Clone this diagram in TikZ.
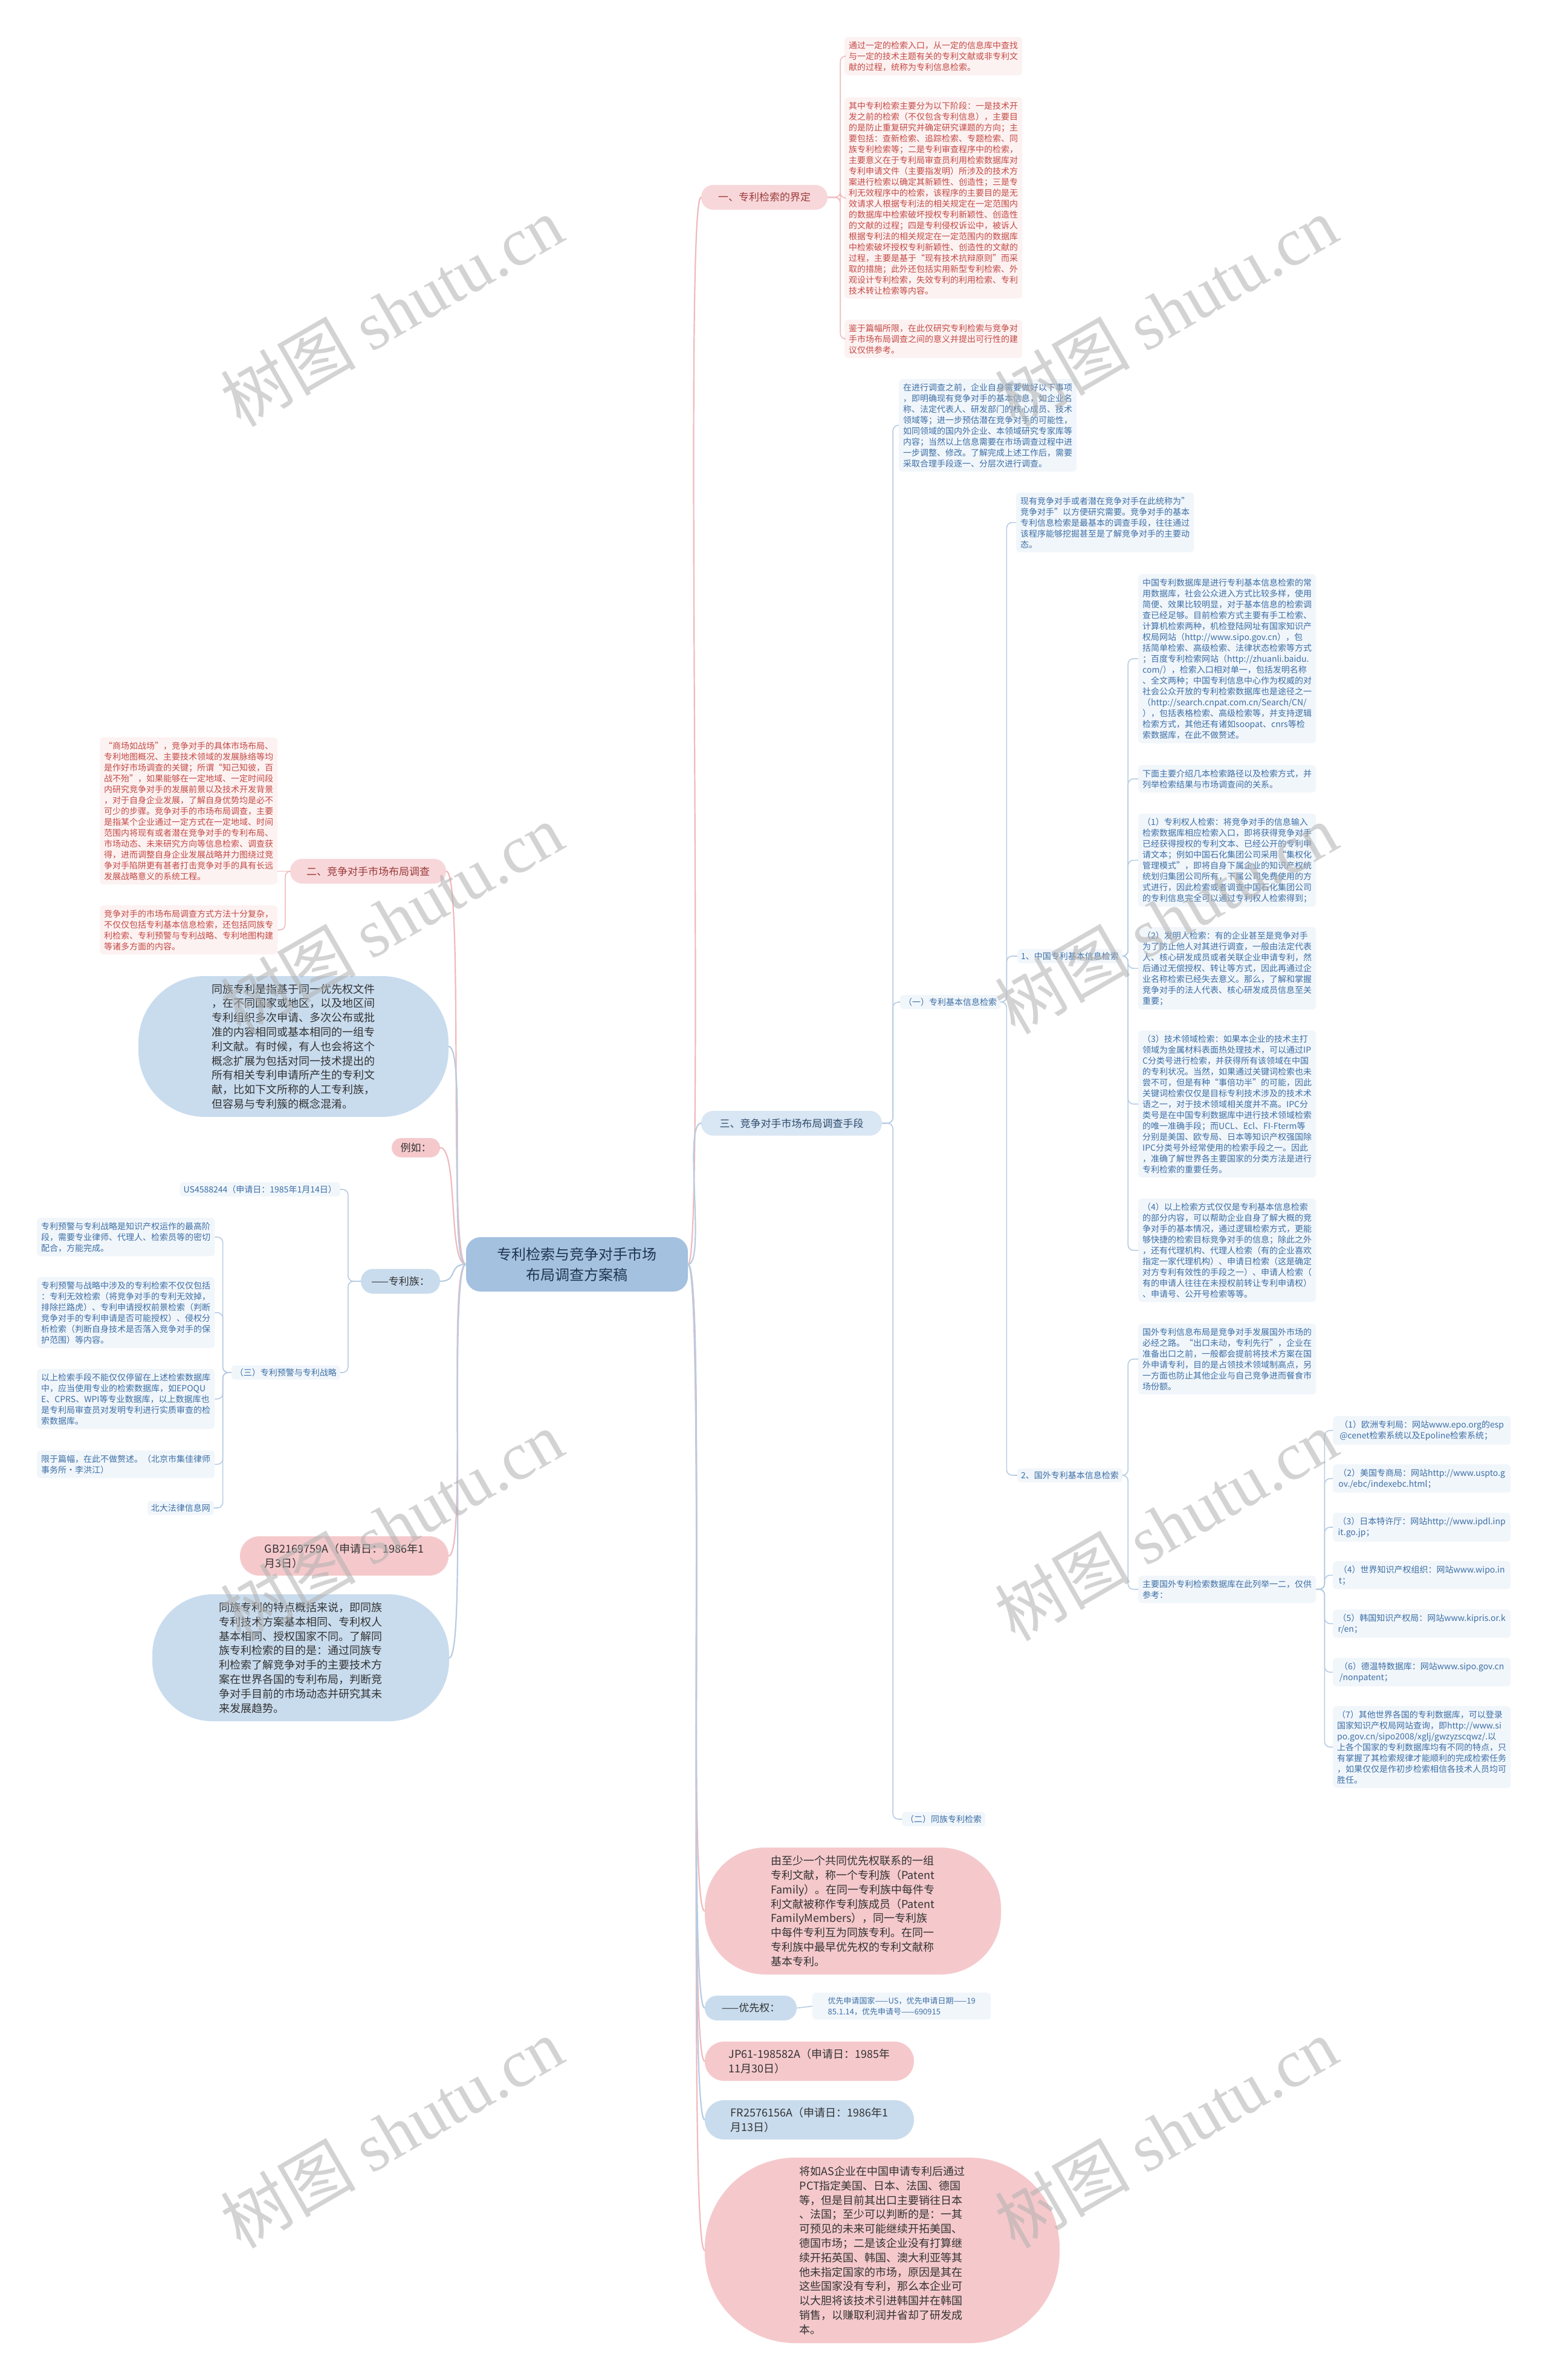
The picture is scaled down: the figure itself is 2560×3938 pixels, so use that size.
\documentclass[tikz,border=0pt]{standalone}
\usepackage{fontspec}
\setmainfont{Noto Sans CJK SC}
\newfontfamily\marklatin{Liberation Serif}
\usetikzlibrary{positioning}
\definecolor{linkpink}{HTML}{F0B9BD}
\definecolor{linkblue}{HTML}{B7CCE2}
\definecolor{notepinkbg}{HTML}{FDF2F2}
\definecolor{notepinktext}{HTML}{C24A45}
\definecolor{notebluebg}{HTML}{F1F6FB}
\definecolor{notebluetext}{HTML}{3D6FA5}
\definecolor{bubblepink}{HTML}{F5C9CC}
\definecolor{bubbleblue}{HTML}{C9DCEE}
\definecolor{bubbletext}{HTML}{333333}
\definecolor{rootfill}{HTML}{A4C1DF}
\definecolor{roottext}{HTML}{1F3550}
\definecolor{topicpink}{HTML}{F8D7DA}
\definecolor{topicpinktext}{HTML}{9B3B3B}
\definecolor{topicblue}{HTML}{D9E6F3}
\definecolor{topicbluetext}{HTML}{2E4D6E}
\definecolor{markgray}{HTML}{B0B0B0}
\tikzset{
  rootnode/.style={fill=rootfill, text=roottext, rounded corners=24,
    minimum width=367, minimum height=90, align=center,
    font=\fontsize{24}{34}\selectfont},
  % first level
  topic/.style={rounded corners=20, minimum height=41, inner sep=0pt,
    font=\fontsize{17}{20}\selectfont},
  pinktopic/.style={topic, fill=topicpink, text=topicpinktext},
  bluetopic/.style={topic, fill=topicblue, text=topicbluetext},
  pilltopic/.style={topic, fill=bubbleblue, text=bubbletext},
  pinkpill/.style={topic, fill=bubblepink, text=bubbletext},
  % big round text bubbles
  bubble/.style={align=left, inner sep=0pt, text=bubbletext,
    font=\fontsize{18}{23.8}\selectfont},
  pinkbubble/.style={bubble, fill=bubblepink},
  bluebubble/.style={bubble, fill=bubbleblue},
  % small text blocks
  note/.style={anchor=north west, align=left, rounded corners=6,
    minimum width=294, inner xsep=7, inner ysep=7,
    font=\fontsize{14}{18}\selectfont},
  pinknote/.style={note, fill=notepinkbg, text=notepinktext},
  bluenote/.style={note, fill=notebluebg, text=notebluetext},
  tag/.style={fill=notebluebg, text=notebluetext, rounded corners=5,
    inner xsep=6, inner ysep=5, font=\fontsize{14}{16}\selectfont},
  rootlink/.style={line width=2.2pt, line cap=round},
  sublink/.style={line width=1.6pt, rounded corners=9},
  watermark/.style={text=markgray, opacity=0.55, rotate=30,
    font=\fontsize{112}{112}\selectfont},
}

\begin{document}
\begin{tikzpicture}[x=1pt,y=-1pt]
  \useasboundingbox[fill=white] (0,0) rectangle (2560,3938);

  % centre
  \node[rootnode] (root) at (954.5,2092) {专利检索与竞争对手市场\\布局调查方案稿};

  % right side: first level
  \node[pinktopic, minimum width=209] (def) at (1264.5,326.5) {一、专利检索的界定};
  \node[bluetopic, minimum width=299] (means) at (1309.5,1858.5) {三、竞争对手市场布局调查手段};
  \node[pinkbubble, minimum width=490, minimum height=210, rounded corners=100] (family) at (1411,3162)
    {由至少一个共同优先权联系的一组\\专利文献，称一个专利族（Patent\\Family）。在同一专利族中每件专\\利文献被称作专利族成员（Patent\\FamilyMembers），同一专利族\\中每件专利互为同族专利。在同一\\专利族中最早优先权的专利文献称\\基本专利。};
  \node[pilltopic, minimum width=152] (prio) at (1242,3322.5) {——优先权：};
  \node[bluenote, font=\fontsize{13}{18}\selectfont, minimum width=295] (priotext) at (1344,3297)
    {优先申请国家——US，优先申请日期——19\\85.1.14，优先申请号——690915};
  \node[pinkbubble, minimum width=346, minimum height=65, rounded corners=32] (jp) at (1339,3410.5)
    {JP61-198582A（申请日：1985年\\11月30日）};
  \node[bluebubble, minimum width=346, minimum height=65, rounded corners=32] (fr) at (1339,3507.5)
    {FR2576156A（申请日：1986年1\\月13日）};
  \node[pinkbubble, minimum width=587, minimum height=307, rounded corners=150] (pct) at (1459.5,3723.5)
    {将如AS企业在中国申请专利后通过\\PCT指定美国、日本、法国、德国\\等，但是目前其出口主要销往日本\\、法国；至少可以判断的是：一其\\可预见的未来可能继续开拓美国、\\德国市场；二是该企业没有打算继\\续开拓英国、韩国、澳大利亚等其\\他未指定国家的市场，原因是其在\\这些国家没有专利，那么本企业可\\以大胆将该技术引进韩国并在韩国\\销售，以赚取利润并省却了研发成\\本。};

  % left side: first level
  \node[pinktopic, minimum width=258] (survey) at (609,1441.5) {二、竞争对手市场布局调查};
  \node[bluebubble, minimum width=513, minimum height=233, rounded corners=110] (same) at (485.5,1731.5)
    {同族专利是指基于同一优先权文件\\，在不同国家或地区，以及地区间\\专利组织多次申请、多次公布或批\\准的内容相同或基本相同的一组专\\利文献。有时候，有人也会将这个\\概念扩展为包括对同一技术提出的\\所有相关专利申请所产生的专利文\\献，比如下文所称的人工专利族，\\但容易与专利簇的概念混淆。};
  \node[pinkpill, minimum width=80, minimum height=32, rounded corners=16] (eg) at (688,1899) {例如：};
  \node[pilltopic, minimum width=131] (fam) at (662.5,2120) {——专利族：};
  \node[pinkbubble, minimum width=345, minimum height=65, rounded corners=32] (gb) at (569.5,2574.5)
    {GB2169759A（申请日：1986年1\\月3日）};
  \node[bluebubble, minimum width=491, minimum height=210, rounded corners=100] (trait) at (497.5,2743)
    {同族专利的特点概括来说，即同族\\专利技术方案基本相同、专利权人\\基本相同、授权国家不同。了解同\\族专利检索的目的是：通过同族专\\利检索了解竞争对手的主要技术方\\案在世界各国的专利布局，判断竞\\争对手目前的市场动态并研究其未\\来发展趋势。};

  % 一 children
  \node[pinknote] (def1) at (1397,61)
    {通过一定的检索入口，从一定的信息库中查找\\与一定的技术主题有关的专利文献或非专利文\\献的过程，统称为专利信息检索。};
  \node[pinknote] (def2) at (1397,161)
    {其中专利检索主要分为以下阶段：一是技术开\\发之前的检索（不仅包含专利信息），主要目\\的是防止重复研究并确定研究课题的方向；主\\要包括：查新检索、追踪检索、专题检索、同\\族专利检索等；二是专利审查程序中的检索，\\主要意义在于专利局审查员利用检索数据库对\\专利申请文件（主要指发明）所涉及的技术方\\案进行检索以确定其新颖性、创造性；三是专\\利无效程序中的检索，该程序的主要目的是无\\效请求人根据专利法的相关规定在一定范围内\\的数据库中检索破坏授权专利新颖性、创造性\\的文献的过程；四是专利侵权诉讼中，被诉人\\根据专利法的相关规定在一定范围内的数据库\\中检索破坏授权专利新颖性、创造性的文献的\\过程，主要是基于“现有技术抗辩原则”而采\\取的措施；此外还包括实用新型专利检索、外\\观设计专利检索，失效专利的利用检索、专利\\技术转让检索等内容。};
  \node[pinknote] (def3) at (1397,529)
    {鉴于篇幅所限，在此仅研究专利检索与竞争对\\手市场布局调查之间的意义并提出可行性的建\\议仅供参考。};

  % 二 children
  \node[pinknote] (sur1) at (165,1220)
    {“商场如战场”，竞争对手的具体市场布局、\\专利地图概况、主要技术领域的发展脉络等均\\是作好市场调查的关键；所谓“知己知彼，百\\战不殆”，如果能够在一定地域、一定时间段\\内研究竞争对手的发展前景以及技术开发背景\\，对于自身企业发展，了解自身优势均是必不\\可少的步骤。竞争对手的市场布局调查，主要\\是指某个企业通过一定方式在一定地域、时间\\范围内将现有或者潜在竞争对手的专利布局、\\市场动态、未来研究方向等信息检索、调查获\\得，进而调整自身企业发展战略并力图绕过竞\\争对手陷阱更有甚者打击竞争对手的具有长远\\发展战略意义的系统工程。};
  \node[pinknote] (sur2) at (165,1498)
    {竞争对手的市场布局调查方式方法十分复杂，\\不仅仅包括专利基本信息检索，还包括同族专\\利检索、专利预警与专利战略、专利地图构建\\等诸多方面的内容。};

  % 三 children
  \node[bluenote] (prep) at (1487,627)
    {在进行调查之前，企业自身需要做好以下事项\\，即明确现有竞争对手的基本信息，如企业名\\称、法定代表人、研发部门的核心成员、技术\\领域等；进一步预估潜在竞争对手的可能性，\\如同领域的国内外企业、本领域研究专家库等\\内容；当然以上信息需要在市场调查过程中进\\一步调整、修改。了解完成上述工作后，需要\\采取合理手段逐一、分层次进行调查。};
  \node[tag, anchor=west] (basic) at (1489,1658) {（一）专利基本信息检索};
  \node[tag, anchor=west] (samesearch) at (1492,3010) {（二）同族专利检索};
  \node[bluenote] (rival) at (1681,815)
    {现有竞争对手或者潜在竞争对手在此统称为”\\竞争对手”以方便研究需要。竞争对手的基本\\专利信息检索是最基本的调查手段，往往通过\\该程序能够挖掘甚至是了解竞争对手的主要动\\态。};
  \node[tag, anchor=west] (cn) at (1683,1582) {1、中国专利基本信息检索};
  \node[tag, anchor=west] (abroad) at (1683,2441) {2、国外专利基本信息检索};

  % 中国 children
  \node[bluenote] (cn1) at (1883,950)
    {中国专利数据库是进行专利基本信息检索的常\\用数据库，社会公众进入方式比较多样，使用\\简便、效果比较明显，对于基本信息的检索调\\查已经足够。目前检索方式主要有手工检索、\\计算机检索两种，机检登陆网址有国家知识产\\权局网站（http://www.sipo.gov.cn），包\\括简单检索、高级检索、法律状态检索等方式\\；百度专利检索网站（http://zhuanli.baidu.\\com/），检索入口相对单一，包括发明名称\\、全文两种；中国专利信息中心作为权威的对\\社会公众开放的专利检索数据库也是途径之一\\（http://search.cnpat.com.cn/Search/CN/\\），包括表格检索、高级检索等，并支持逻辑\\检索方式，其他还有诸如soopat、cnrs等检\\索数据库，在此不做赘述。};
  \node[bluenote] (cn2) at (1883,1266)
    {下面主要介绍几本检索路径以及检索方式，并\\列举检索结果与市场调查间的关系。};
  \node[bluenote] (cn3) at (1883,1346)
    {（1）专利权人检索：将竞争对手的信息输入\\检索数据库相应检索入口，即将获得竞争对手\\已经获得授权的专利文本、已经公开的专利申\\请文本；例如中国石化集团公司采用“集权化\\管理模式”，即将自身下属企业的知识产权统\\统划归集团公司所有，下属公司免费使用的方\\式进行，因此检索或者调查中国石化集团公司\\的专利信息完全可以通过专利权人检索得到；};
  \node[bluenote] (cn4) at (1883,1534)
    {（2）发明人检索：有的企业甚至是竞争对手\\为了防止他人对其进行调查，一般由法定代表\\人、核心研发成员或者关联企业申请专利，然\\后通过无偿授权、转让等方式，因此再通过企\\业名称检索已经失去意义。那么，了解和掌握\\竞争对手的法人代表、核心研发成员信息至关\\重要；};
  \node[bluenote] (cn5) at (1883,1705)
    {（3）技术领域检索：如果本企业的技术主打\\领域为金属材料表面热处理技术，可以通过IP\\C分类号进行检索，并获得所有该领域在中国\\的专利状况。当然，如果通过关键词检索也未\\尝不可，但是有种“事倍功半”的可能，因此\\关键词检索仅仅是目标专利技术涉及的技术术\\语之一，对于技术领域相关度并不高。IPC分\\类号是在中国专利数据库中进行技术领域检索\\的唯一准确手段；而UCL、Ecl、FI-Fterm等\\分别是美国、欧专局、日本等知识产权强国除\\IPC分类号外经常使用的检索手段之一。因此\\，准确了解世界各主要国家的分类方法是进行\\专利检索的重要任务。};
  \node[bluenote] (cn6) at (1883,1983)
    {（4）以上检索方式仅仅是专利基本信息检索\\的部分内容，可以帮助企业自身了解大概的竞\\争对手的基本情况，通过逻辑检索方式，更能\\够快捷的检索目标竞争对手的信息；除此之外\\，还有代理机构、代理人检索（有的企业喜欢\\指定一家代理机构）、申请日检索（这是确定\\对方专利有效性的手段之一）、申请人检索（\\有的申请人往往在未授权前转让专利申请权）\\、申请号、公开号检索等等。};

  % 国外 children
  \node[bluenote] (ab1) at (1883,2190)
    {国外专利信息布局是竞争对手发展国外市场的\\必经之路。“出口未动，专利先行”，企业在\\准备出口之前，一般都会提前将技术方案在国\\外申请专利，目的是占领技术领域制高点，另\\一方面也防止其他企业与自己竞争进而餐食市\\场份额。};
  \node[bluenote] (ab2) at (1883,2607)
    {主要国外专利检索数据库在此列举一二，仅供\\参考：};
  \node[bluenote] (db1) at (2205,2343) {（1）欧洲专利局：网站www.epo.org的esp\\@cenet检索系统以及Epoline检索系统；};
  \node[bluenote] (db2) at (2205,2423) {（2）美国专商局：网站http://www.uspto.g\\ov./ebc/indexebc.html；};
  \node[bluenote] (db3) at (2205,2503) {（3）日本特许厅：网站http://www.ipdl.inp\\it.go.jp；};
  \node[bluenote] (db4) at (2205,2583) {（4）世界知识产权组织：网站www.wipo.in\\t；};
  \node[bluenote] (db5) at (2205,2663) {（5）韩国知识产权局：网站www.kipris.or.k\\r/en；};
  \node[bluenote] (db6) at (2205,2743) {（6）德温特数据库：网站www.sipo.gov.cn\\/nonpatent；};
  \node[bluenote] (db7) at (2205,2823)
    {（7）其他世界各国的专利数据库，可以登录\\国家知识产权局网站查询，即http://www.si\\po.gov.cn/sipo2008/xglj/gwzyzscqwz/.以\\上各个国家的专利数据库均有不同的特点，只\\有掌握了其检索规律才能顺利的完成检索任务\\，如果仅仅是作初步检索相信各技术人员均可\\胜任。};

  % 专利族 children
  \node[tag, anchor=east] (us) at (563,1968) {US4588244（申请日：1985年1月14日）};
  \node[tag, anchor=east] (warn) at (563,2271) {（三）专利预警与专利战略};
  \node[bluenote] (w1) at (61,2015)
    {专利预警与专利战略是知识产权运作的最高阶\\段，需要专业律师、代理人、检索员等的密切\\配合，方能完成。};
  \node[bluenote] (w2) at (61,2113)
    {专利预警与战略中涉及的专利检索不仅仅包括\\：专利无效检索（将竞争对手的专利无效掉，\\排除拦路虎）、专利申请授权前景检索（判断\\竞争对手的专利申请是否可能授权）、侵权分\\析检索（判断自身技术是否落入竞争对手的保\\护范围）等内容。};
  \node[bluenote] (w3) at (61,2265)
    {以上检索手段不能仅仅停留在上述检索数据库\\中，应当使用专业的检索数据库，如EPOQU\\E、CPRS、WPI等专业数据库，以上数据库也\\是专利局审查员对发明专利进行实质审查的检\\索数据库。};
  \node[bluenote] (w4) at (61,2400)
    {限于篇幅，在此不做赘述。（北京市集佳律师\\事务所·李洪江）};
  \node[tag, anchor=east] (pku) at (354,2495) {北大法律信息网};

  % links from the centre
  \foreach \t in {def, family, jp, pct}
    \draw[rootlink, linkpink] (root.east) .. controls +(30,0) and +(-30,0) .. (\t.west);
  \foreach \t in {means, prio, fr}
    \draw[rootlink, linkblue] (root.east) .. controls +(30,0) and +(-30,0) .. (\t.west);
  \foreach \t in {survey, eg, gb}
    \draw[rootlink, linkpink] (root.west) .. controls +(-30,0) and +(30,0) .. (\t.east);
  \foreach \t in {same, fam, trait}
    \draw[rootlink, linkblue] (root.west) .. controls +(-30,0) and +(30,0) .. (\t.east);

  % brackets
  \foreach \c in {def1, def2, def3}
    \draw[sublink, linkpink] (def.east) -- ++(21,0) |- (\c.west);
  \draw[sublink, linkpink] (survey.west) -- (survey.west -| sur1.east);
  \draw[sublink, linkpink] (survey.west) -- ++(-8,0) |- (sur2.east);
  \foreach \c in {prep, basic, samesearch}
    \draw[sublink, linkblue] (means.east) -- ++(18,0) |- (\c.west);
  \foreach \c in {rival, cn, abroad}
    \draw[sublink, linkblue] (basic.east) -- ++(10,0) |- (\c.west);
  \foreach \c in {cn1, cn2, cn3, cn4, cn5, cn6}
    \draw[sublink, linkblue] (cn.east) -- ++(9,0) |- (\c.west);
  \foreach \c in {ab1, ab2}
    \draw[sublink, linkblue] (abroad.east) -- ++(9,0) |- (\c.west);
  \foreach \c in {db1, db2, db3, db4, db5, db6, db7}
    \draw[sublink, linkblue] (ab2.east) -- ++(14,0) |- (\c.west);
  \foreach \c in {us, warn}
    \draw[sublink, linkblue] (fam.west) -- ++(-21,0) |- (\c.east);
  \foreach \c in {w1, w2, w3, w4, pku}
    \draw[sublink, linkblue] (warn.west) -- ++(-14,0) |- (\c.east);
  \draw[sublink, linkblue] (prio.east) -- (priotext.west);

  % watermark
  \foreach \mx in {648, 1929}
    \foreach \my in {515, 1520, 2524, 3529}
      \node[watermark] at (\mx,\my) {树图 {\marklatin shutu.cn}};
\end{tikzpicture}
\end{document}
